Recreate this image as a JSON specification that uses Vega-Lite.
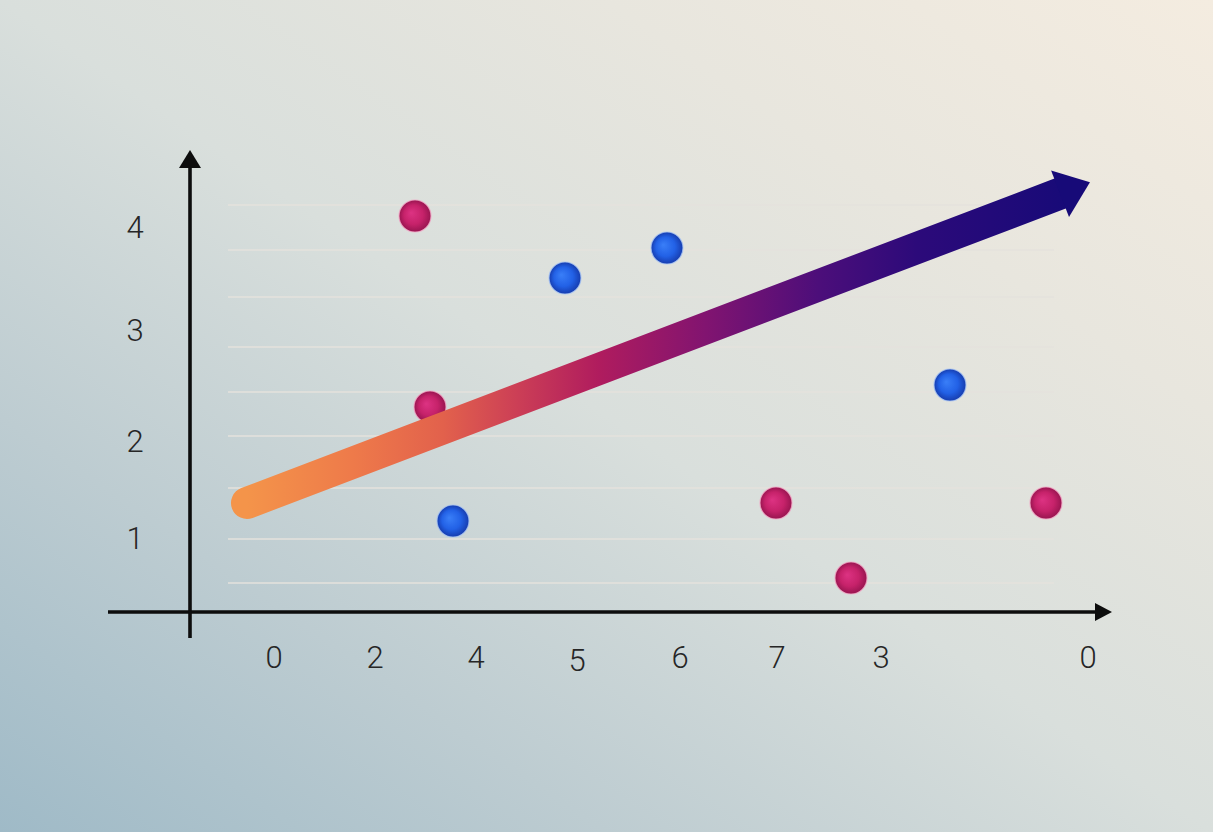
{
  "$schema": "https://vega.github.io/schema/vega-lite/v6.json",
  "width": 1213,
  "height": 832,
  "padding": 0,
  "autosize": {"type": "fit", "contains": "padding"},
  "background": "#dcdedb",
  "config": {"view": {"stroke": null}},
  "datasets": {
    "bg": [{"x": -1.9, "x2": 10.23, "y": -2.2, "y2": 6.12}],
    "grid": [
      {"x": 0.38, "x2": 8.64, "y": 4.07},
      {"x": 0.38, "x2": 8.64, "y": 3.62},
      {"x": 0.38, "x2": 8.64, "y": 3.15},
      {"x": 0.38, "x2": 8.64, "y": 2.65},
      {"x": 0.38, "x2": 8.64, "y": 2.20},
      {"x": 0.38, "x2": 8.64, "y": 1.76},
      {"x": 0.38, "x2": 8.64, "y": 1.24},
      {"x": 0.38, "x2": 8.64, "y": 0.73},
      {"x": 0.38, "x2": 8.64, "y": 0.29}
    ],
    "axisx": [{"x": -0.82, "x2": 9.06, "y": 0}],
    "axisy": [{"x": 0, "y": -0.26, "y2": 4.45}],
    "headx": [{"x": 9.135, "y": 0}],
    "heady": [{"x": 0, "y": 4.53}],
    "labels": [
      {"label": "4", "x": -0.55, "y": 3.83},
      {"label": "3", "x": -0.55, "y": 2.80},
      {"label": "2", "x": -0.55, "y": 1.69},
      {"label": "1", "x": -0.55, "y": 0.72},
      {"label": "0", "x": 0.84, "y": -0.47},
      {"label": "2", "x": 1.85, "y": -0.47},
      {"label": "4", "x": 2.86, "y": -0.47},
      {"label": "5", "x": 3.87, "y": -0.50},
      {"label": "6", "x": 4.90, "y": -0.47},
      {"label": "7", "x": 5.87, "y": -0.47},
      {"label": "3", "x": 6.91, "y": -0.47},
      {"label": "0", "x": 8.98, "y": -0.47}
    ],
    "points": [
      {"group": "magenta", "x": 2.25, "y": 3.96},
      {"group": "magenta", "x": 2.40, "y": 2.05},
      {"group": "magenta", "x": 5.86, "y": 1.09},
      {"group": "magenta", "x": 6.61, "y": 0.34},
      {"group": "magenta", "x": 8.56, "y": 1.09},
      {"group": "blue", "x": 3.75, "y": 3.34},
      {"group": "blue", "x": 4.77, "y": 3.64},
      {"group": "blue", "x": 2.63, "y": 0.91},
      {"group": "blue", "x": 7.60, "y": 2.27}
    ],
    "trend": [
      {"order": 1, "x": 0.57, "y": 1.09},
      {"order": 2, "x": 8.74, "y": 4.20}
    ],
    "head": [{"x": 8.85, "y": 4.24}]
  },
  "encoding": {
    "x": {"field": "x", "type": "quantitative", "axis": null,
          "scale": {"domain": [-1.9, 10.23], "nice": false, "zero": false}},
    "y": {"field": "y", "type": "quantitative", "axis": null,
          "scale": {"domain": [-2.2, 6.12], "nice": false, "zero": false}}
  },
  "layer": [
    {
      "data": {"name": "bg"},
      "mark": {"type": "rect", "fill": {"gradient": "linear", "x1": 0, "y1": 1, "x2": 1, "y2": 0,
        "stops": [
          {"offset": 0, "color": "#9fbac7"},
          {"offset": 0.25, "color": "#bdccd1"},
          {"offset": 0.5, "color": "#d9dfdc"},
          {"offset": 0.75, "color": "#e8e6de"},
          {"offset": 1, "color": "#f4ece0"}
        ]}},
      "encoding": {"x2": {"field": "x2"}, "y2": {"field": "y2"}}
    },
    {
      "data": {"name": "grid"},
      "mark": {"type": "rule", "color": "#e4e2dc", "strokeWidth": 1.6},
      "encoding": {"x2": {"field": "x2"}}
    },
    {
      "data": {"name": "axisx"},
      "mark": {"type": "rule", "color": "#0d0d0d", "strokeWidth": 3.6},
      "encoding": {"x2": {"field": "x2"}}
    },
    {
      "data": {"name": "axisy"},
      "mark": {"type": "rule", "color": "#0d0d0d", "strokeWidth": 3.6},
      "encoding": {"y2": {"field": "y2"}}
    },
    {
      "data": {"name": "headx"},
      "mark": {"type": "point", "filled": true, "color": "#0d0d0d", "opacity": 1, "size": 400,
               "shape": "M0.85,0L-0.85,-0.9L-0.85,0.9Z"}
    },
    {
      "data": {"name": "heady"},
      "mark": {"type": "point", "filled": true, "color": "#0d0d0d", "opacity": 1, "size": 484,
               "shape": "M0,-0.82L1,0.82L-1,0.82Z"}
    },
    {
      "data": {"name": "labels"},
      "mark": {"type": "text", "font": "Roboto", "fontWeight": 300, "fontSize": 31,
               "color": "#262626", "align": "center", "baseline": "middle"},
      "encoding": {"text": {"field": "label", "type": "nominal"}}
    },
    {
      "data": {"name": "points"},
      "transform": [{"filter": "datum.group === 'magenta'"}],
      "mark": {"type": "point", "shape": "circle", "size": 1024, "opacity": 1,
               "fill": {"gradient": "radial", "x1": 0.38, "y1": 0.4, "r1": 0, "x2": 0.5, "y2": 0.5, "r2": 0.5,
                 "stops": [
                   {"offset": 0, "color": "#dd3383"},
                   {"offset": 0.6, "color": "#c6226a"},
                   {"offset": 1, "color": "#981550"}
                 ]},
               "stroke": "#f2a6c6", "strokeWidth": 1.2, "strokeOpacity": 0.8}
    },
    {
      "data": {"name": "points"},
      "transform": [{"filter": "datum.group === 'blue'"}],
      "mark": {"type": "point", "shape": "circle", "size": 1024, "opacity": 1,
               "fill": {"gradient": "radial", "x1": 0.38, "y1": 0.4, "r1": 0, "x2": 0.5, "y2": 0.5, "r2": 0.5,
                 "stops": [
                   {"offset": 0, "color": "#3a7ff8"},
                   {"offset": 0.6, "color": "#2261e6"},
                   {"offset": 1, "color": "#163cae"}
                 ]},
               "stroke": "#a8c4f4", "strokeWidth": 1.2, "strokeOpacity": 0.8}
    },
    {
      "data": {"name": "trend"},
      "mark": {"type": "line", "strokeWidth": 32, "strokeCap": "round",
               "stroke": {"gradient": "linear", "x1": 0, "y1": 0, "x2": 1, "y2": 0,
                 "stops": [
                   {"offset": 0, "color": "#f4944a"},
                   {"offset": 0.13, "color": "#ee7a4a"},
                   {"offset": 0.24, "color": "#e2614c"},
                   {"offset": 0.33, "color": "#cc3f56"},
                   {"offset": 0.43, "color": "#b01c5e"},
                   {"offset": 0.56, "color": "#821470"},
                   {"offset": 0.70, "color": "#4c0e7a"},
                   {"offset": 0.82, "color": "#2c0a7a"},
                   {"offset": 1, "color": "#180a78"}
                 ]}},
      "encoding": {"order": {"field": "order", "type": "quantitative"}}
    },
    {
      "data": {"name": "head"},
      "mark": {"type": "point", "filled": true, "color": "#170a78", "opacity": 1, "size": 2500,
               "angle": -21, "shape": "M0.64,0L-0.64,-1L-0.64,1Z"}
    }
  ]
}
